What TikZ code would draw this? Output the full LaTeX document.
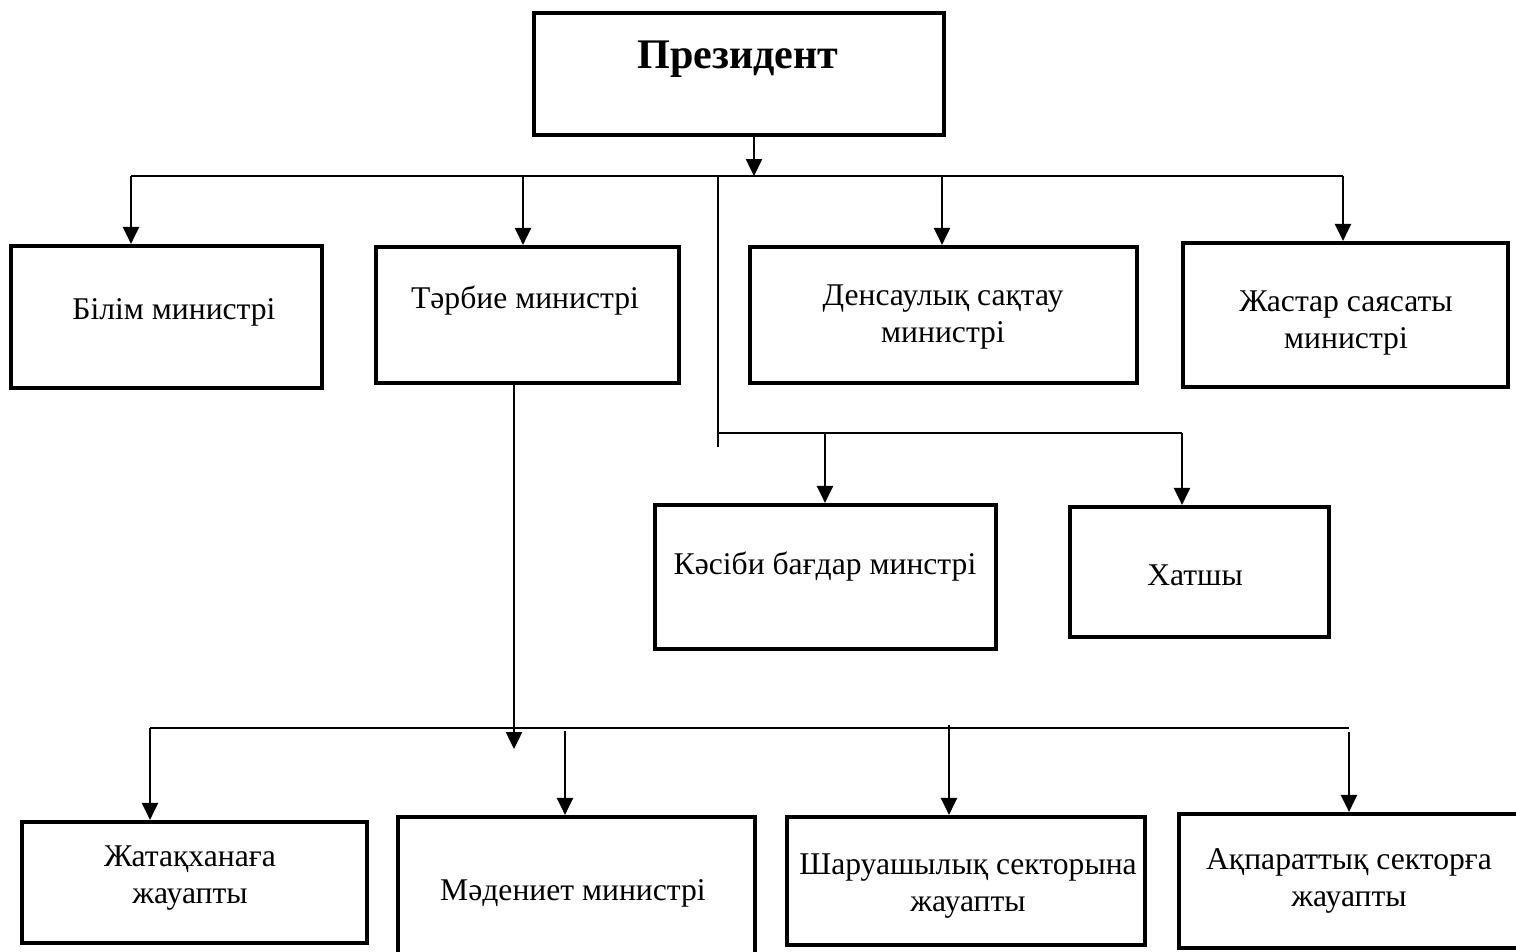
\documentclass[tikz,border=0pt]{standalone}
\usepackage{fontspec}
\setmainfont{Liberation Serif}
\usetikzlibrary{arrows.meta}

\begin{document}
\begin{tikzpicture}[
  x=0.02cm, y=-0.02cm,
  box/.style={draw, line width=2.4pt, inner sep=0pt},
  txt/.style={font=\fontsize{18}{21.5}\selectfont, align=center, inner sep=0pt},
  ln/.style={line width=1.1pt},
  arr/.style={-{Triangle[length=0.34cm, width=0.32cm]}, line width=1.4pt}
]
  \useasboundingbox (0,0) rectangle (1516,951);
  \clip (0,0) rectangle (1516,951);

  % boxes
  \node[box, minimum width=8.2cm, minimum height=2.44cm] (pres) at (739,74) {};
  \node[box, minimum width=6.22cm, minimum height=2.84cm] (bilim) at (166.5,317) {};
  \node[box, minimum width=6.06cm, minimum height=2.72cm] (tarbie) at (527.5,315) {};
  \node[box, minimum width=7.74cm, minimum height=2.72cm] (densau) at (943.5,315) {};
  \node[box, minimum width=6.5cm, minimum height=2.88cm] (zhastar) at (1345.5,315) {};
  \node[box, minimum width=6.82cm, minimum height=2.88cm] (kasibi) at (825.5,577) {};
  \node[box, minimum width=5.18cm, minimum height=2.6cm] (hatshy) at (1199.5,572) {};
  \node[box, minimum width=6.9cm, minimum height=2.42cm] (zhatak) at (194.5,882.5) {};
  \node[box, minimum width=7.14cm, minimum height=2.86cm] (madeniet) at (576.5,888.5) {};
  \node[box, minimum width=7.16cm, minimum height=2.56cm] (sharua) at (966,881) {};
  \node[box, minimum width=6.92cm, minimum height=2.68cm] (akparat) at (1352,881) {};

  % texts
  \node[txt, font=\fontsize{24}{28}\selectfont\bfseries, anchor=base] (presT) at (738,68) {Президент};
  \node[txt, anchor=base] (bilimT) at (174,319) {Білім министрі};
  \node[txt, anchor=base] (tarbieT) at (525,308) {Тәрбие министрі};
  \node[txt] (densauT) at (943,317) {Денсаулық сақтау\\министрі};
  \node[txt] (zhastarT) at (1346,323) {Жастар саясаты\\министрі};
  \node[txt, anchor=base] (kasibiT) at (825,574) {Кәсіби бағдар минстрі};
  \node[txt, anchor=base] (hatshyT) at (1195,585) {Хатшы};
  \node[txt] (zhatakT) at (190,878) {Жатақханаға\\жауапты};
  \node[txt, anchor=base] (madenietT) at (573,900) {Мәдениет министрі};
  \node[txt] (sharuaT) at (968,886) {Шаруашылық секторына\\жауапты};
  \node[txt] (akparatT) at (1349,881) {Ақпараттық секторға\\жауапты};

  % joints
  \coordinate (jP) at (754,176);
  \coordinate (jBil) at (131,176);
  \coordinate (jTar) at (523,176);
  \coordinate (jMid) at (718,176);
  \coordinate (jDen) at (942,176);
  \coordinate (jZh) at (1343,176);
  \coordinate (mMid) at (718,433);
  \coordinate (mEnd) at (718,447);
  \coordinate (mKas) at (825,433);
  \coordinate (mHat) at (1182,433);
  \coordinate (tEnd) at (514,749);
  \coordinate (bZhat) at (150,728);
  \coordinate (bMad) at (565,731);
  \coordinate (bShar) at (949,725);
  \coordinate (bAkL) at (1349,728);
  \coordinate (bAk) at (1349,732);

  % top level
  \draw[arr] (pres.south -| jP) -- (jP);
  \draw[ln] (jBil) -- (jZh);
  \draw[arr] (jBil) -- (jBil |- bilim.north);
  \draw[arr] (jTar) -- (jTar |- tarbie.north);
  \draw[arr] (jDen) -- (jDen |- densau.north);
  \draw[arr] (jZh) -- (jZh |- zhastar.north);

  % middle level
  \draw[line width=0.9pt] (jMid) -- (mEnd);
  \draw[ln] (mMid) -- (mHat);
  \draw[arr] (mKas) -- (mKas |- kasibi.north);
  \draw[arr] (mHat) -- (mHat |- hatshy.north);

  % bottom level
  \draw[arr] (tarbie.south -| tEnd) -- (tEnd);
  \draw[ln] (bZhat) -- (bAkL);
  \draw[arr] (bZhat) -- (bZhat |- zhatak.north);
  \draw[arr] (bMad) -- (bMad |- madeniet.north);
  \draw[arr] (bShar) -- (bShar |- sharua.north);
  \draw[arr] (bAk) -- (bAk |- akparat.north);
\end{tikzpicture}
\end{document}
